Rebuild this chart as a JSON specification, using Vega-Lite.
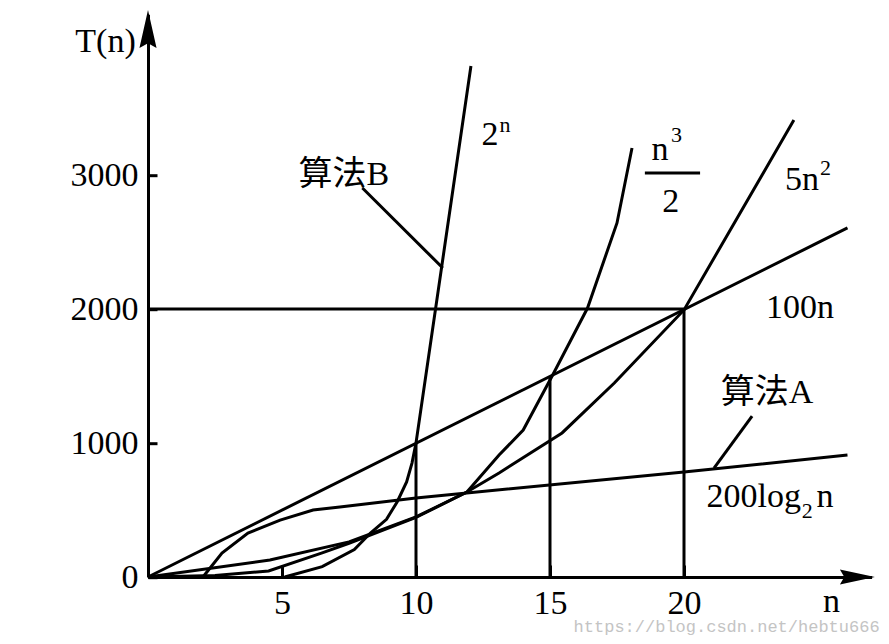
{
  "$schema": "https://vega.github.io/schema/vega-lite/v6.json",
  "width": 723.6,
  "height": 562.8,
  "autosize": "none",
  "padding": {"left": 148, "top": 14.2, "right": 17.4, "bottom": 67},
  "background": "white",
  "config": {"view": {"stroke": null}},
  "datasets": {
    "curves": [
      {"s": "100n", "i": 0, "n": 0, "T": 0},
      {"s": "100n", "i": 1, "n": 26.1, "T": 2605},
      {"s": "h2000", "i": 0, "n": 0, "T": 2000},
      {"s": "h2000", "i": 1, "n": 20, "T": 2000},
      {"s": "v10", "i": 0, "n": 10, "T": 0},
      {"s": "v10", "i": 1, "n": 10, "T": 1000},
      {"s": "v15", "i": 0, "n": 15, "T": 0},
      {"s": "v15", "i": 1, "n": 15, "T": 1500},
      {"s": "v20", "i": 0, "n": 20, "T": 0},
      {"s": "v20", "i": 1, "n": 20, "T": 2000},
      {"s": "log", "i": 0, "n": 2.05, "T": 0},
      {"s": "log", "i": 1, "n": 2.76, "T": 179},
      {"s": "log", "i": 2, "n": 3.73, "T": 328},
      {"s": "log", "i": 3, "n": 4.93, "T": 425},
      {"s": "log", "i": 4, "n": 6.16, "T": 500},
      {"s": "log", "i": 5, "n": 7.16, "T": 522},
      {"s": "log", "i": 6, "n": 10, "T": 590},
      {"s": "log", "i": 7, "n": 20, "T": 784},
      {"s": "log", "i": 8, "n": 26.1, "T": 910},
      {"s": "5n2", "i": 0, "n": 0, "T": 0},
      {"s": "5n2", "i": 1, "n": 4.55, "T": 127},
      {"s": "5n2", "i": 2, "n": 7.5, "T": 262},
      {"s": "5n2", "i": 3, "n": 10, "T": 448},
      {"s": "5n2", "i": 4, "n": 11.9, "T": 634},
      {"s": "5n2", "i": 5, "n": 13.1, "T": 776},
      {"s": "5n2", "i": 6, "n": 15.45, "T": 1075},
      {"s": "5n2", "i": 7, "n": 17.4, "T": 1448},
      {"s": "5n2", "i": 8, "n": 20, "T": 1993},
      {"s": "5n2", "i": 9, "n": 24.1, "T": 3410},
      {"s": "n3", "i": 0, "n": 0, "T": 0},
      {"s": "n3", "i": 1, "n": 2.5, "T": 12},
      {"s": "n3", "i": 2, "n": 4.5, "T": 45},
      {"s": "n3", "i": 3, "n": 6.5, "T": 180},
      {"s": "n3", "i": 4, "n": 7.5, "T": 252},
      {"s": "n3", "i": 5, "n": 10, "T": 445},
      {"s": "n3", "i": 6, "n": 11.9, "T": 634},
      {"s": "n3", "i": 7, "n": 13.1, "T": 910},
      {"s": "n3", "i": 8, "n": 14, "T": 1097},
      {"s": "n3", "i": 9, "n": 15.1, "T": 1507},
      {"s": "n3", "i": 10, "n": 16.4, "T": 2007},
      {"s": "n3", "i": 11, "n": 17.5, "T": 2642},
      {"s": "n3", "i": 12, "n": 18.06, "T": 3201},
      {"s": "2n", "i": 0, "n": 5.1, "T": 0},
      {"s": "2n", "i": 1, "n": 6.5, "T": 77},
      {"s": "2n", "i": 2, "n": 7.7, "T": 205},
      {"s": "2n", "i": 3, "n": 8.3, "T": 328},
      {"s": "2n", "i": 4, "n": 8.9, "T": 430},
      {"s": "2n", "i": 5, "n": 9.3, "T": 562},
      {"s": "2n", "i": 6, "n": 9.65, "T": 710},
      {"s": "2n", "i": 7, "n": 9.85, "T": 850},
      {"s": "2n", "i": 8, "n": 10, "T": 1000},
      {"s": "2n", "i": 9, "n": 12.05, "T": 3813},
      {"s": "ptrB", "i": 0, "n": 8.0, "T": 2903},
      {"s": "ptrB", "i": 1, "n": 11.0, "T": 2306},
      {"s": "ptrA", "i": 0, "n": 22.54, "T": 1201},
      {"s": "ptrA", "i": 1, "n": 21.12, "T": 813},
      {"s": "frac", "i": 0, "n": 18.54, "T": 3015},
      {"s": "frac", "i": 1, "n": 20.6, "T": 3015}
    ],
    "bigText": [
      {"t": "T(n)", "n": -1.586, "T": 3918},
      {"t": "n", "n": 25.5, "T": -262},
      {"t": "2", "n": 12.76, "T": 3224},
      {"t": "n", "n": 19.1, "T": 3112},
      {"t": "2", "n": 19.51, "T": 2724},
      {"t": "5n", "n": 24.4, "T": 2888},
      {"t": "100n", "n": 24.33, "T": 1933},
      {"t": "算法A", "n": 23.1, "T": 1300},
      {"t": "200log", "n": 22.6, "T": 522},
      {"t": "n", "n": 25.26, "T": 522},
      {"t": "算法B", "n": 7.31, "T": 2925}
    ],
    "smallText": [
      {"t": "n", "n": 13.32, "T": 3321},
      {"t": "3", "n": 19.72, "T": 3246},
      {"t": "2", "n": 25.28, "T": 3000},
      {"t": "2", "n": 24.6, "T": 440}
    ],
    "arrowUp": [{"n": 0, "T": 4090}],
    "arrowRight": [{"n": 26.47, "T": 0}],
    "mark": [{"t": "https://blog.csdn.net/hebtu666", "n": 27.3, "T": -412}]
  },
  "layer": [
    {
      "data": {"name": "curves"},
      "mark": {"type": "line", "color": "black", "strokeWidth": 3},
      "encoding": {
        "x": {
          "field": "n", "type": "quantitative",
          "scale": {"domain": [0, 27], "nice": false, "zero": false},
          "axis": {
            "values": [5, 10, 15, 20], "title": null, "grid": false, "format": "d",
            "labelFont": "Liberation Serif", "labelFontSize": 34, "labelColor": "black",
            "domainColor": "black", "domainWidth": 3,
            "tickColor": "black", "tickWidth": 3, "tickSize": -12,
            "labelPadding": 21, "labelBaseline": "top"
          }
        },
        "y": {
          "field": "T", "type": "quantitative",
          "scale": {"domain": [0, 4200], "nice": false, "zero": false},
          "axis": {
            "values": [0, 1000, 2000, 3000], "title": null, "grid": false, "format": "d",
            "labelFont": "Liberation Serif", "labelFontSize": 34, "labelColor": "black",
            "domainColor": "black", "domainWidth": 3,
            "tickColor": "black", "tickWidth": 3, "tickSize": -9,
            "labelPadding": 19, "labelBaseline": "middle"
          }
        },
        "detail": {"field": "s"},
        "order": {"field": "i", "type": "quantitative"}
      }
    },
    {
      "data": {"name": "bigText"},
      "mark": {"type": "text", "font": "'Liberation Serif', 'Noto Sans CJK SC', serif", "fontSize": 34, "color": "black", "align": "center", "baseline": "alphabetic"},
      "encoding": {
        "x": {"field": "n", "type": "quantitative"},
        "y": {"field": "T", "type": "quantitative"},
        "text": {"field": "t"}
      }
    },
    {
      "data": {"name": "smallText"},
      "mark": {"type": "text", "font": "'Liberation Serif', serif", "fontSize": 22, "color": "black", "align": "center", "baseline": "alphabetic"},
      "encoding": {
        "x": {"field": "n", "type": "quantitative"},
        "y": {"field": "T", "type": "quantitative"},
        "text": {"field": "t"}
      }
    },
    {
      "data": {"name": "arrowUp"},
      "mark": {"type": "point", "shape": "M0,-1L0.45,1L0,0.75L-0.45,1Z", "size": 1444, "filled": true, "color": "black", "opacity": 1, "strokeWidth": 0},
      "encoding": {
        "x": {"field": "n", "type": "quantitative"},
        "y": {"field": "T", "type": "quantitative"}
      }
    },
    {
      "data": {"name": "arrowRight"},
      "mark": {"type": "point", "shape": "M1,0L-1,0.43L-0.75,0L-1,-0.43Z", "size": 1225, "filled": true, "color": "black", "opacity": 1, "strokeWidth": 0},
      "encoding": {
        "x": {"field": "n", "type": "quantitative"},
        "y": {"field": "T", "type": "quantitative"}
      }
    },
    {
      "data": {"name": "mark"},
      "mark": {"type": "text", "font": "'Liberation Mono', monospace", "fontSize": 17, "color": "#c4c4c4", "align": "right", "baseline": "alphabetic"},
      "encoding": {
        "x": {"field": "n", "type": "quantitative"},
        "y": {"field": "T", "type": "quantitative"},
        "text": {"field": "t"}
      }
    }
  ]
}
